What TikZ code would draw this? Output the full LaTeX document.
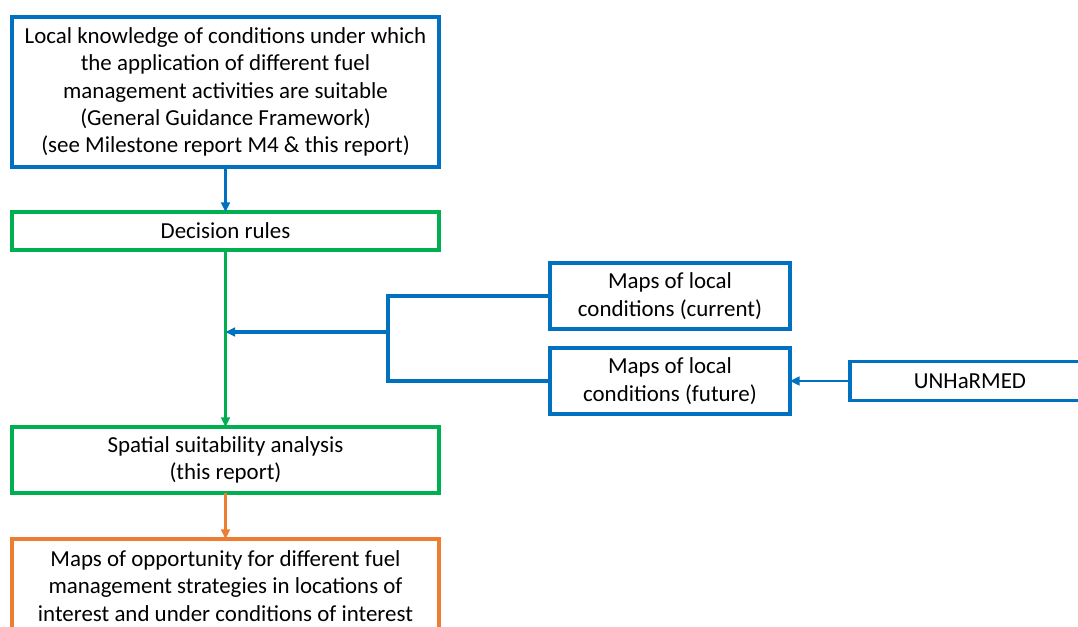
\documentclass[tikz,border=0pt]{standalone}
\usepackage{fontspec}
\setmainfont{Carlito}
\usepackage{tikz}
\usetikzlibrary{positioning, arrows.meta, calc}
\definecolor{blu}{HTML}{0070C0}
\definecolor{grn}{HTML}{00B050}
\definecolor{orng}{HTML}{ED7D31}
\tikzset{
  boks/.style={draw=blu, line width=2.2pt, fill=white, align=center,
               font=\fontsize{16.3}{19.5}\selectfont, inner sep=2pt, outer sep=0pt},
  flowB/.style={-{Triangle[length=2.4mm, width=2.2mm]}, line width=1.5pt, draw=blu},
  flowG/.style={-{Triangle[length=2.4mm, width=2.2mm]}, line width=1.5pt, draw=grn},
  flowO/.style={-{Triangle[length=2.4mm, width=2.2mm]}, line width=1.5pt, draw=orng},
}

\begin{document}
\begin{tikzpicture}
  \useasboundingbox (0,0) rectangle (26.95,-15.675);
  \clip (0,0) rectangle (26.95,-15.675);

  % main column
  \node[boks, minimum width=10.675cm, minimum height=3.75cm]
    (know) at (5.6375,-2.3)
    {Local knowledge of conditions under which\\
     the application of different fuel\\
     management activities are suitable\\
     (General Guidance Framework)\\
     (see Milestone report M4 \& this report)};
  \node[boks, draw=grn, minimum width=10.675cm, minimum height=0.95cm,
        below=1.125cm of know]
    (rules) {Decision rules};
  \node[boks, draw=grn, minimum width=10.675cm, minimum height=1.65cm,
        below=4.425cm of rules]
    (spat) {Spatial suitability analysis\\(this report)};
  \node[boks, draw=orng, minimum width=10.675cm, minimum height=2.35cm,
        below=1.15cm of spat]
    (opp) {Maps of opportunity for different fuel\\
           management strategies in locations of\\
           interest and under conditions of interest};

  % local condition maps
  \node[boks, minimum width=6cm, minimum height=1.65cm]
    (cur) at (16.75,-7.4) {Maps of local\\conditions (current)};
  \node[boks, minimum width=6cm, minimum height=1.65cm, below=0.475cm of cur]
    (fut) {Maps of local\\conditions (future)};
  \node[boks, minimum width=6cm, minimum height=0.975cm, right=1.5cm of fut]
    (unh) {UNHaRMED};

  \coordinate (jn) at (9.7,-8.3);

  \draw[flowB] (know) -- (rules);
  \draw[flowG] (rules) -- (spat);
  \draw[flowO] (spat) -- (opp);
  \draw[flowB] (unh) -- (fut);
  \draw[blu, line width=2.4pt] (cur.west) -| (jn |- fut.west) -- (fut.west);
  \draw[flowB, line width=2.4pt] (jn) -- (jn -| rules.south);
\end{tikzpicture}
\end{document}
